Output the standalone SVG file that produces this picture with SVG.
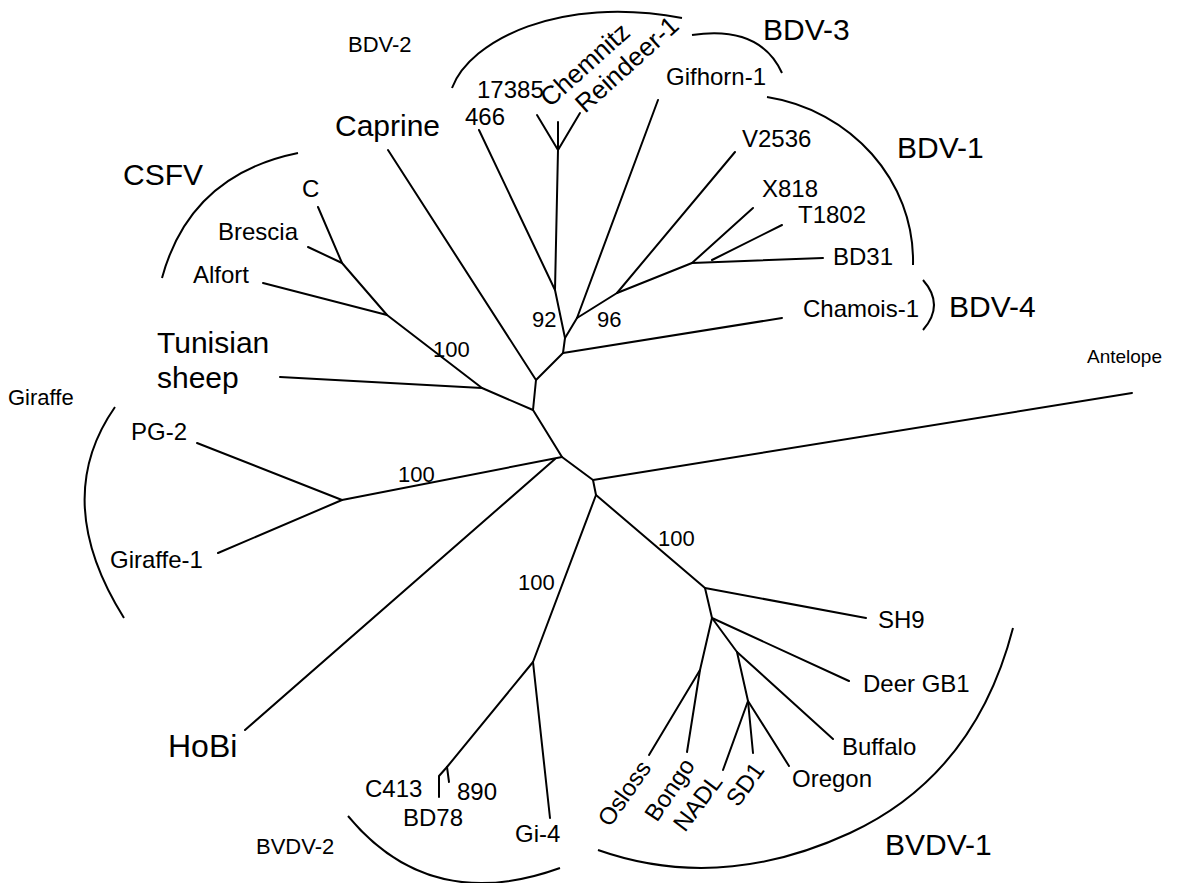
<svg xmlns="http://www.w3.org/2000/svg" width="1181" height="883" viewBox="0 0 1181 883">
<style>
text{font-family:"Liberation Sans",Arial,sans-serif;fill:#000}
.s{font-size:22px}
.m{font-size:24px}
.l{font-size:30px}
.n{font-size:22px}
.e{stroke:#000;stroke-width:2;fill:none;stroke-linecap:round;stroke-linejoin:round}
.b{stroke:#000;stroke-width:2;fill:none}
</style>
<rect width="1181" height="883" fill="#fff"/>
<g id="connectors" class="e">
<!-- central backbone -->
<polyline points="563,353 536,380 533,410 562,457 593,480 596,495"/>
<line x1="536" y1="380" x2="388" y2="150"/>
<line x1="533" y1="410" x2="482" y2="388"/>
<line x1="482" y1="388" x2="280" y2="377"/>
<polyline points="482,388 387,315 342,263 318,207"/>
<line x1="342" y1="263" x2="308" y2="247"/>
<line x1="387" y1="315" x2="263" y2="283"/>
<line x1="562" y1="457" x2="342" y2="500"/>
<line x1="342" y1="500" x2="197" y2="443"/>
<line x1="342" y1="500" x2="218" y2="553"/>
<line x1="555" y1="459" x2="245" y2="730"/>
<line x1="593" y1="480" x2="1132" y2="393"/>
<!-- BDV -->
<polyline points="563,353 565,338 555,290 558,150 558,122"/>
<line x1="558" y1="150" x2="537" y2="115"/>
<line x1="558" y1="150" x2="580" y2="113"/>
<line x1="555" y1="290" x2="479" y2="130"/>
<line x1="565" y1="338" x2="577" y2="318"/>
<line x1="577" y1="318" x2="658" y2="100"/>
<line x1="577" y1="318" x2="617" y2="293"/>
<line x1="617" y1="293" x2="735" y2="152"/>
<line x1="617" y1="293" x2="692" y2="263"/>
<line x1="692" y1="263" x2="753" y2="208"/>
<line x1="692" y1="263" x2="823" y2="258"/>
<line x1="712" y1="260" x2="782" y2="225"/>
<line x1="563" y1="353" x2="782" y2="318"/>
<!-- BVDV-2 -->
<line x1="596" y1="495" x2="533" y2="662"/>
<line x1="533" y1="662" x2="550" y2="818"/>
<line x1="533" y1="662" x2="447" y2="767"/>
<polyline points="447,767 439,776 439,797"/>
<line x1="447" y1="767" x2="449" y2="782"/>
<!-- BVDV-1 -->
<line x1="596" y1="495" x2="705" y2="588"/>
<line x1="705" y1="588" x2="866" y2="618"/>
<line x1="705" y1="588" x2="712" y2="618"/>
<line x1="712" y1="618" x2="849" y2="681"/>
<polyline points="712,618 700,670 687,752"/>
<line x1="700" y1="670" x2="649" y2="755"/>
<line x1="712" y1="618" x2="737" y2="652"/>
<line x1="737" y1="652" x2="833" y2="739"/>
<line x1="737" y1="652" x2="748" y2="701"/>
<line x1="748" y1="701" x2="723" y2="770"/>
<line x1="748" y1="701" x2="753" y2="753"/>
<line x1="748" y1="701" x2="789" y2="766"/>
</g>
<g id="brackets" class="b">
<path id="arc-bdv2" d="M452 88 C470 40 560 -5 682 18"/>
<path id="arc-bdv3" d="M692 35 Q760 25 782 73"/>
<path id="arc-bdv1" d="M767 97 C850 110 915 180 913 265"/>
<path id="arc-bdv4" d="M923 280 Q945 305 923 330"/>
<path id="arc-csfv" d="M298 153 Q190 175 162 278"/>
<path id="arc-giraffe" d="M115 407 Q50 500 124 618"/>
<path id="arc-bvdv2" d="M348 816 Q430 915 560 868"/>
<path id="arc-bvdv1" d="M598 850 Q720 893 850 833 Q975 775 1013 628"/>
</g>
<g id="group-labels">
<text id="lbl-bdv2" class="s" x="348" y="52">BDV-2</text>
<text id="lbl-bdv3" class="l" x="763" y="40">BDV-3</text>
<text id="lbl-bdv1" class="l" x="897" y="158">BDV-1</text>
<text id="lbl-bdv4" class="l" x="949" y="317">BDV-4</text>
<text id="lbl-csfv" class="l" x="123" y="185">CSFV</text>
<text id="lbl-giraffe" class="s" x="8" y="405">Giraffe</text>
<text id="lbl-bvdv2" class="s" x="256" y="854">BVDV-2</text>
<text id="lbl-bvdv1" class="l" x="885" y="855">BVDV-1</text>
</g>
<g id="bootstrap">
<text class="n" x="532" y="327">92</text>
<text class="n" x="597" y="327">96</text>
<text class="n" x="433" y="357">100</text>
<text class="n" x="398" y="482">100</text>
<text class="n" x="518" y="590">100</text>
<text class="n" x="658" y="546">100</text>
</g>
<g id="node-caprine"><text class="l" x="335" y="136">Caprine</text></g>
<g id="node-tunisian"><text class="l" x="157" y="353">Tunisian</text><text class="l" x="157" y="388">sheep</text></g>
<g id="node-c"><text class="m" x="302" y="197">C</text></g>
<g id="node-brescia"><text class="m" x="218" y="240">Brescia</text></g>
<g id="node-alfort"><text class="m" x="193" y="283">Alfort</text></g>
<g id="node-17385"><text class="m" x="477" y="98">17385</text></g>
<g id="node-466"><text class="m" x="465" y="125">466</text></g>
<g id="node-chemnitz"><text class="m" style="font-size:26px" transform="translate(550,108) rotate(-42)">Chemnitz</text></g>
<g id="node-reindeer"><text class="m" style="font-size:26px" transform="translate(585,114) rotate(-42)">Reindeer-1</text></g>
<g id="node-gifhorn"><text class="m" x="666" y="85">Gifhorn-1</text></g>
<g id="node-v2536"><text class="m" x="742" y="147">V2536</text></g>
<g id="node-x818"><text class="m" x="762" y="197">X818</text></g>
<g id="node-t1802"><text class="m" x="798" y="223">T1802</text></g>
<g id="node-bd31"><text class="m" x="833" y="265">BD31</text></g>
<g id="node-chamois"><text class="m" x="803" y="317">Chamois-1</text></g>
<g id="node-antelope"><text class="s" x="1087" y="363" style="font-size:19px">Antelope</text></g>
<g id="node-pg2"><text class="m" x="131" y="440">PG-2</text></g>
<g id="node-giraffe1"><text class="m" x="110" y="568">Giraffe-1</text></g>
<g id="node-hobi"><text class="l" x="168" y="757" style="font-size:32px">HoBi</text></g>
<g id="node-c413"><text class="m" x="365" y="797">C413</text></g>
<g id="node-890"><text class="m" x="457" y="800">890</text></g>
<g id="node-bd78"><text class="m" x="403" y="826">BD78</text></g>
<g id="node-gi4"><text class="m" x="515" y="842">Gi-4</text></g>
<g id="node-sh9"><text class="m" x="878" y="628">SH9</text></g>
<g id="node-deer"><text class="m" x="863" y="692">Deer GB1</text></g>
<g id="node-buffalo"><text class="m" x="842" y="755">Buffalo</text></g>
<g id="node-oregon"><text class="m" x="792" y="787">Oregon</text></g>
<g id="node-osloss"><text class="m" transform="translate(610,828) rotate(-55)">Osloss</text></g>
<g id="node-bongo"><text class="m" transform="translate(657,823) rotate(-56)">Bongo</text></g>
<g id="node-nadl"><text class="m" transform="translate(685,833) rotate(-53)">NADL</text></g>
<g id="node-sd1"><text class="m" transform="translate(738,808) rotate(-54)">SD1</text></g>
</svg>
